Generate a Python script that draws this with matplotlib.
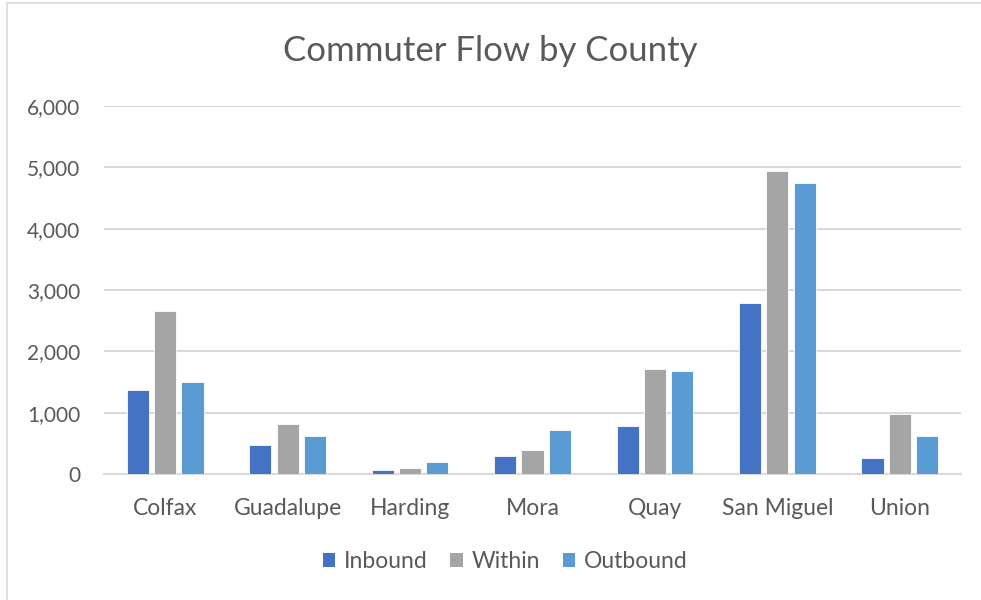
import matplotlib
matplotlib.use('Agg')
import matplotlib.pyplot as plt
from matplotlib.patches import Patch
from matplotlib.lines import Line2D
from matplotlib.ticker import FuncFormatter, MultipleLocator
import numpy as np

counties = ["Colfax", "Guadalupe", "Harding", "Mora", "Quay", "San Miguel", "Union"]
inbound = [1377, 468, 60, 300, 778, 2790, 267]
within = [2654, 811, 93, 387, 1708, 4933, 979]
outbound = [1507, 626, 202, 724, 1680, 4747, 615]

series = ["Inbound", "Within", "Outbound"]
colors = ["#4472C4", "#A5A5A5", "#5B9BD5"]
text_color = "#595959"
grid_color = "#D9D9D9"

plt.rcParams['font.family'] = ['Lato', 'DejaVu Sans']

fig = plt.figure(figsize=(9.81, 6.0), dpi=100)
ax = fig.add_axes([104 / 981, 126 / 600, (961 - 104) / 981, (474 - 106) / 600])

x = np.arange(len(counties))
width = 0.18
step = 0.223
for i, (vals, name, col) in enumerate(zip([inbound, within, outbound], series, colors)):
    ax.bar(x + (i - 1) * step, vals, width, color=col, edgecolor="white",
           linewidth=0.6, label=name, zorder=3)

ax.set_xlim(-0.5, len(counties) - 0.5)
ax.set_ylim(0, 6000)
ax.yaxis.set_major_locator(MultipleLocator(1000))
ax.yaxis.set_major_formatter(FuncFormatter(lambda v, p: f"{int(v):,}"))
ax.grid(axis='y', color=grid_color, linewidth=1.5, zorder=0)
ax.set_axisbelow(True)
for s in ["top", "right", "left"]:
    ax.spines[s].set_visible(False)
ax.spines["bottom"].set_color(grid_color)
ax.spines["bottom"].set_linewidth(1.5)

ax.set_xticks(x)
ax.set_xticklabels(counties)
ax.tick_params(axis='both', length=0, labelcolor=text_color)
ax.tick_params(axis='y', pad=17, labelsize=15)
ax.tick_params(axis='x', pad=17, labelsize=16.5)

fig.text(0.5, 1 - 51 / 600, "Commuter Flow by County", ha='center', va='center',
         fontsize=25, color=text_color)

handles = [Patch(facecolor=c, edgecolor='none') for c in colors]
fig.legend(handles, series, loc='center', bbox_to_anchor=(505 / 981, 1 - 562 / 600),
           ncol=3, frameon=False, fontsize=16.5, labelcolor=text_color,
           handlelength=0.55, handleheight=0.55, handletextpad=0.36, columnspacing=1.0)

# chart frame edges
fig.add_artist(Line2D([7 / 981, 7 / 981], [0, 1 - 3 / 600], color="#D9D9D9", linewidth=1.2))
fig.add_artist(Line2D([7 / 981, 1], [1 - 3 / 600, 1 - 3 / 600], color="#D9D9D9", linewidth=1.2))

fig.savefig("out.png", dpi=100)
